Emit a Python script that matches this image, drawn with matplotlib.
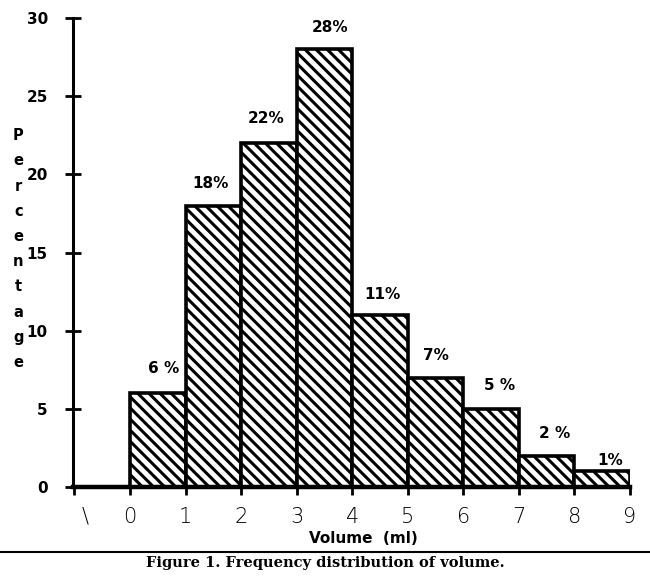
import numpy as np
import matplotlib.pyplot as plt
from matplotlib.lines import Line2D

# data
left_edges = [0, 1, 2, 3, 4, 5, 6, 7, 8]
percent = [6, 18, 22, 28, 11, 7, 5, 2, 1]
labels = ["6 %", "18%", "22%", "28%", "11%", "7%", "5 %", "2 %", "1%"]
label_x = [0.6, 1.45, 2.45, 3.6, 4.55, 5.5, 6.65, 7.65, 8.65]
label_y = [7.6, 19.4, 23.6, 29.4, 12.3, 8.4, 6.5, 3.4, 1.7]
xtick_pos = [-0.8, 0, 1, 2, 3, 4, 5, 6, 7, 8, 9]
xtick_txt = ["\\", "0", "1", "2", "3", "4", "5", "6", "7", "8", "9"]
yticks = [0, 5, 10, 15, 20, 25, 30]

plt.rcParams['hatch.linewidth'] = 2.2

fig = plt.figure(figsize=(6.5, 5.86), dpi=100)
ax = fig.add_axes([0.112, 0.169, 0.857, 0.80])

ax.bar(left_edges, percent, width=1.0, align='edge', color='white',
       edgecolor='black', linewidth=2.6, hatch='\\\\\\', zorder=2)

for x, y, s in zip(label_x, label_y, labels):
    ax.text(x, y, s, ha='center', va='center', fontsize=11,
            fontweight='bold', family='DejaVu Sans')

ax.set_xlim(-1.03, 9.0)
ax.set_ylim(0, 30)

for side in ['top', 'right']:
    ax.spines[side].set_visible(False)
ax.spines['left'].set_linewidth(2.2)
ax.spines['bottom'].set_linewidth(3.2)
ax.spines['bottom'].set_bounds(-1.03, 9.0)

ax.set_yticks(yticks)
ax.set_yticklabels([str(v) for v in yticks], fontsize=11, fontweight='bold')
ax.tick_params(axis='y', direction='inout', length=12, width=2, pad=12)

ax.set_xticks([-1, 0, 1, 2, 3, 4, 5, 6, 7, 8, 9])
ax.set_xticklabels([])
ax.tick_params(axis='x', direction='out', length=6, width=2)
for x, s in zip(xtick_pos, xtick_txt):
    ax.text(x, -1.9, s, ha='center', va='center', fontsize=15,
            fontweight='light', family='DejaVu Sans')

ax.text(4.2, -3.3, "Volume  (ml)", ha='center', va='center', fontsize=11,
        fontweight='bold')

# vertical stacked y label
fig.text(0.028, 0.575, "\n".join("Percentage"), ha='center', va='center',
         fontsize=10.5, fontweight='bold', linespacing=1.85)

# caption with rule above
fig.add_artist(Line2D([0.0, 1.0], [0.058, 0.058], color='black', linewidth=1.5))
fig.text(0.5, 0.04, "Figure 1. Frequency distribution of volume.",
         ha='center', va='center', fontsize=10.5, fontweight='bold',
         family='DejaVu Serif')

fig.savefig("out.png", dpi=100)
